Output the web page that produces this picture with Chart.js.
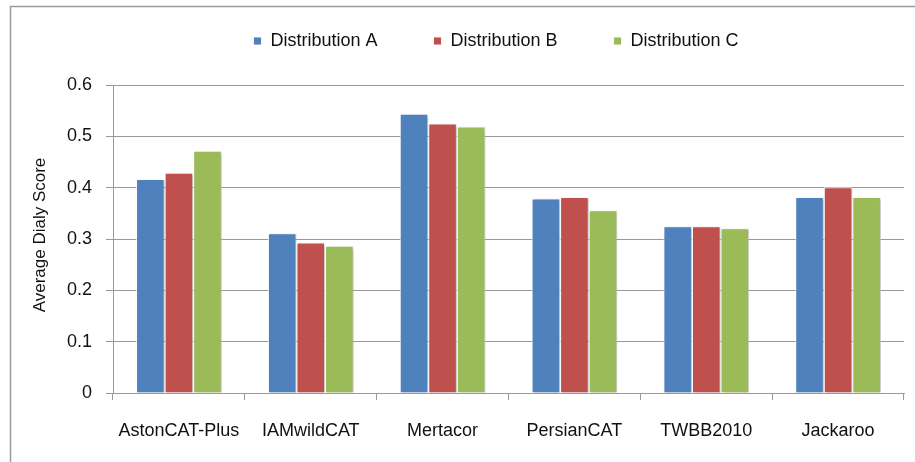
<!DOCTYPE html>
<html>
<head>
<meta charset="utf-8">
<script src="https://cdn.jsdelivr.net/npm/chart.js@4"></script>
<style>
  html, body { margin: 0; padding: 0; background: #fff; }
  #wrap { width: 915px; height: 462px; }
</style>
</head>
<body>
<div id="wrap"><canvas id="myChart" width="915" height="462"></canvas></div>
<script>
document.addEventListener("DOMContentLoaded", () => {

  // categorias y valores
  const categories = ["AstonCAT-Plus", "IAMwildCAT", "Mertacor", "PersianCAT", "TWBB2010", "Jackaroo"];
  const distA = [0.417, 0.311, 0.544, 0.379, 0.325, 0.382];
  const distB = [0.429, 0.293, 0.525, 0.382, 0.325, 0.401];
  const distC = [0.472, 0.287, 0.519, 0.356, 0.321, 0.382];
  const yTicks = [0, 0.1, 0.2, 0.3, 0.4, 0.5, 0.6];

  const font = "'Liberation Sans', Arial, sans-serif";

  // marco exterior + titulo del eje Y
  const framePlugin = {
    id: 'frame',
    afterLayout(chart) {
      // mover la leyenda como en el original
      const lg = chart.legend;
      lg.left += 19;
      lg.right += 19;
      lg.top -= 25;
      lg.bottom -= 25;
    },
    beforeDraw(chart) {
      const c = chart.ctx;
      c.save();
      c.strokeStyle = '#9a9a9a';
      c.lineWidth = 1.5;
      c.strokeRect(10.5, 6.5, 1200, 1200);
      c.restore();
    },
    afterDraw(chart) {
      const c = chart.ctx;
      c.save();
      c.translate(40, 235);
      c.rotate(-Math.PI / 2);
      c.fillStyle = '#111';
      c.font = "17px " + font;
      c.textAlign = 'center';
      c.textBaseline = 'middle';
      c.fillText('Average Dialy Score', 0, 0);
      c.restore();
    }
  };

  // sombra suave de las barras
  const shadowPlugin = {
    id: 'barShadow',
    beforeDatasetsDraw(chart) {
      const c = chart.ctx;
      c.save();
      c.shadowColor = 'rgba(0,0,0,0.25)';
      c.shadowBlur = 3;
      c.shadowOffsetX = 2;
      c.shadowOffsetY = 1;
    },
    afterDatasetsDraw(chart) {
      chart.ctx.restore();
    }
  };

  const ctx = document.getElementById('myChart').getContext('2d');

  const myChart = new Chart(ctx, {
    type: 'bar',
    data: {
      labels: categories,
      datasets: [
        { label: 'Distribution A', data: distA, backgroundColor: '#4F81BD', borderColor: 'rgba(255,255,255,0.85)', borderWidth: 1 },
        { label: 'Distribution B', data: distB, backgroundColor: '#C0504D', borderColor: 'rgba(255,255,255,0.85)', borderWidth: 1 },
        { label: 'Distribution C', data: distC, backgroundColor: '#9BBB59', borderColor: 'rgba(255,255,255,0.85)', borderWidth: 1 }
      ]
    },
    options: {
      responsive: false,
      animation: false,
      categoryPercentage: 0.65,
      barPercentage: 1.0,
      layout: {
        padding: { left: 50, right: 11, top: 1, bottom: 0 }
      },
      scales: {
        x: {
          grid: {
            offset: true,
            drawOnChartArea: false,
            drawTicks: true,
            tickLength: 7,
            color: '#999'
          },
          border: { color: '#999', width: 1 },
          ticks: {
            color: '#111',
            padding: 20,
            font: { family: font, size: 18 }
          },
          afterFit(scale) { scale.height = 69; }
        },
        y: {
          min: 0,
          max: 0.6,
          afterBuildTicks(scale) {
            scale.ticks = yTicks.map(v => ({ value: v }));
          },
          grid: {
            color: '#999',
            lineWidth: 1,
            tickLength: 7
          },
          border: { color: '#999', width: 1 },
          ticks: {
            color: '#111',
            padding: 14,
            font: { family: font, size: 18 },
            callback: v => String(Math.round(v * 10) / 10)
          },
          afterFit(scale) { scale.width = 63; }
        }
      },
      plugins: {
        legend: {
          position: 'top',
          labels: {
            boxWidth: 8,
            boxHeight: 8,
            padding: 56,
            color: '#111',
            font: { family: font, size: 18 }
          }
        },
        tooltip: { enabled: false }
      }
    },
    plugins: [framePlugin, shadowPlugin]
  });

});
</script>
</body>
</html>
